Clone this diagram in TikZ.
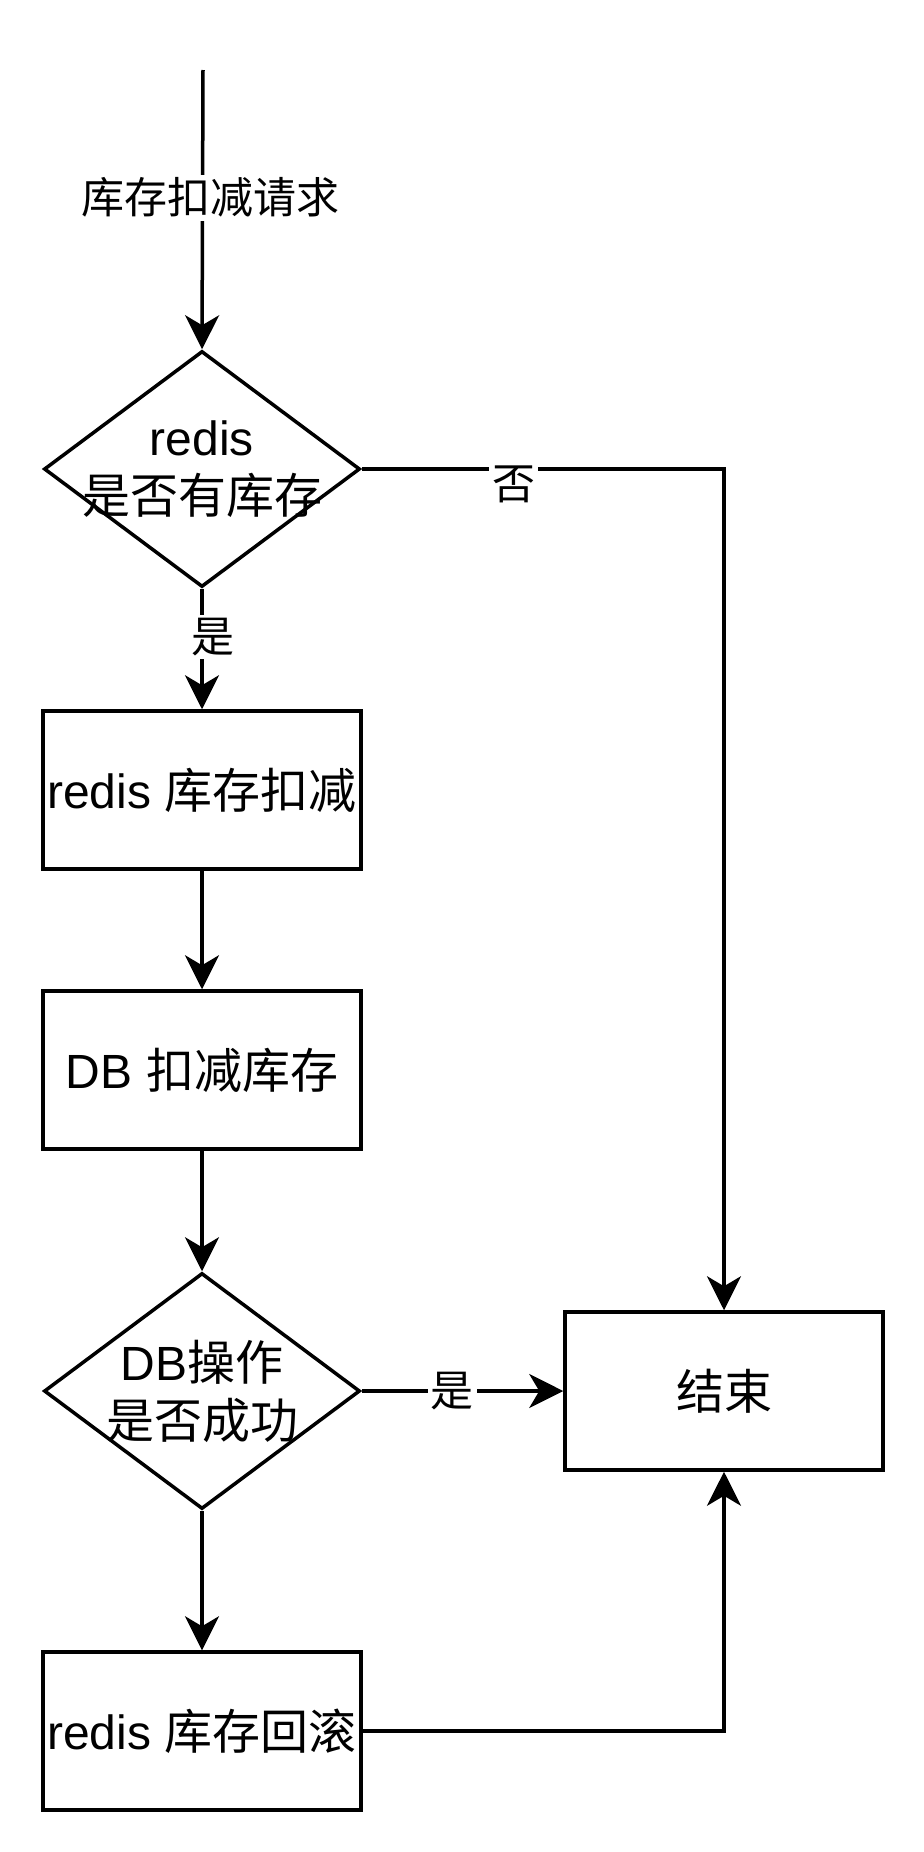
\documentclass[tikz,border=0pt]{standalone}
\usepackage{fontspec}
\setmainfont{Liberation Sans}
\newfontfamily\cjk{Noto Sans CJK SC}
\usetikzlibrary{shapes.geometric,arrows.meta}

\newcommand{\nodefont}{\fontsize{24}{29}\selectfont}
\newcommand{\lblfont}{\fontsize{21.5}{26}\selectfont}

\tikzset{
  box/.style={draw, line width=1.75pt, minimum width=159pt, minimum height=79pt, inner sep=0pt, font=\nodefont},
  decision/.style={draw, diamond, line width=1.75pt, minimum width=158pt, minimum height=118pt, inner sep=0pt},
  flow/.style={line width=1.75pt, -{Stealth[length=17pt,width=17pt,inset=5pt]}},
  lbl/.style={fill=white, inner sep=1.5pt, font=\lblfont},
}

\begin{document}
\begin{tikzpicture}[x=0.5pt,y=0.5pt,yscale=-1,xscale=1]
\useasboundingbox (0,0) rectangle (924,1852);
% nodes
\coordinate (in) at (203,70);
\node[decision, label={[font=\nodefont,align=center]center:{redis\\\cjk 是否有库存}}] (check) at (202,469) {};
\node[box] (deduct) at (202,790) {redis {\cjk 库存扣减}};
\node[box] (dbdeduct) at (202,1070) {DB {\cjk 扣减库存}};
\node[decision, label={[font=\nodefont,align=center]center:{DB{\cjk 操作}\\\cjk 是否成功}}] (dbok) at (202,1391) {};
\node[box] (rollback) at (202,1731) {redis {\cjk 库存回滚}};
\node[box] (finish) at (724,1391) {\cjk 结束};

% edges
\draw[flow] (in) -- node[lbl, pos=0.457, xshift=4pt] {\cjk 库存扣减请求} (check.north);
\draw[flow] (check.south) -- node[lbl, pos=0.4, xshift=5.5pt] {\cjk 是} (deduct.north);
\draw[flow] (check.east) -| node[lbl, pos=0.21, yshift=-7.5pt] {\cjk 否} (finish.north);
\draw[flow] (deduct) -- (dbdeduct);
\draw[flow] (dbdeduct) -- (dbok);
\draw[flow] (dbok.east) -- node[lbl, pos=0.45] {\cjk 是} (finish.west);
\draw[flow] (dbok) -- (rollback);
\draw[flow] (rollback.east) -| (finish.south);
\end{tikzpicture}
\end{document}
